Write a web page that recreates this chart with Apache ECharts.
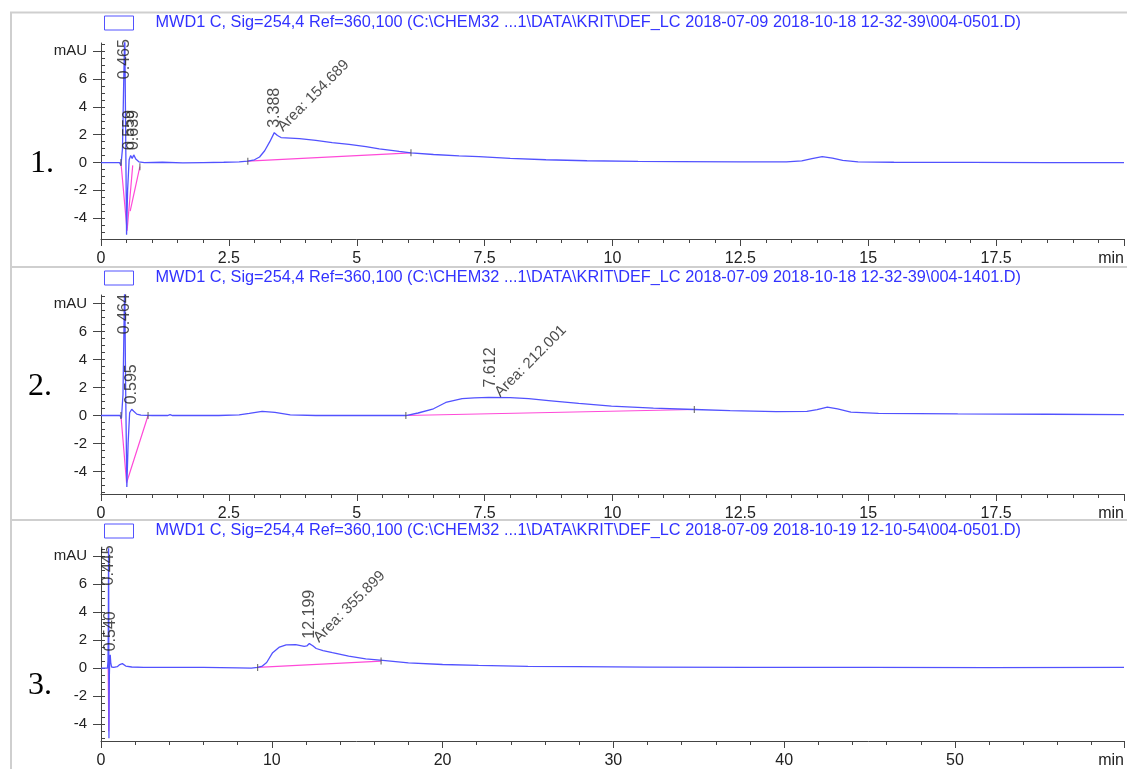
<!DOCTYPE html>
<html><head><meta charset="utf-8">
<script src="https://cdn.jsdelivr.net/npm/echarts@6/dist/echarts.min.js"></script>
<style>html,body{margin:0;padding:0;background:#fff}#c{width:1127px;height:769px}</style>
</head><body><div id="c"></div>
<script>
const FONT = '"Liberation Sans", Arial, sans-serif';

const titles = [
  'MWD1 C, Sig=254,4 Ref=360,100 (C:\\CHEM32 ...1\\DATA\\KRIT\\DEF_LC 2018-07-09 2018-10-18 12-32-39\\004-0501.D)',
  'MWD1 C, Sig=254,4 Ref=360,100 (C:\\CHEM32 ...1\\DATA\\KRIT\\DEF_LC 2018-07-09 2018-10-18 12-32-39\\004-1401.D)',
  'MWD1 C, Sig=254,4 Ref=360,100 (C:\\CHEM32 ...1\\DATA\\KRIT\\DEF_LC 2018-07-09 2018-10-19 12-10-54\\004-0501.D)'
];
const panelNames = ['1.', '2.', '3.'];

// ---- trace 1 (min, mAU)
const t1 = [0,0.2,0.36,0.39,0.42,0.445,0.465,0.48,0.50,0.52,0.55,0.58,0.61,0.64,0.68,0.74,0.85,1.2,1.6,2.0,2.4,2.7,2.87,3.0,3.1,3.2,3.3,3.388,3.45,3.52,3.7,3.88,4.2,4.52,4.85,5.18,5.44,5.83,6.06,6.5,7.0,7.39,8.0,8.7,9.5,10.5,11.3,12.5,13.4,13.7,13.9,14.1,14.3,14.5,14.8,15.5,17,18.5,20];
const s1 = [0,0,0,-0.2,1.0,6.0,9.5,3.0,-5.2,-2.0,0.2,0.5,0.3,0.55,0.25,0.05,0,0.02,-0.02,0,0.02,0.05,0.1,0.2,0.4,0.85,1.5,2.15,1.95,1.8,1.76,1.72,1.6,1.44,1.3,1.15,0.98,0.8,0.7,0.58,0.48,0.43,0.3,0.2,0.13,0.09,0.07,0.05,0.05,0.12,0.28,0.42,0.32,0.15,0.05,0.02,0.01,0,0];
// ---- trace 2
const t2 = [0,0.2,0.37,0.40,0.43,0.45,0.464,0.48,0.505,0.53,0.56,0.60,0.64,0.7,0.78,1.0,1.3,1.35,1.4,1.8,2.3,2.7,2.9,3.15,3.4,3.7,4.2,5.0,5.6,5.96,6.2,6.5,6.74,7.06,7.3,7.58,8.0,8.36,8.8,9.34,9.98,10.8,11.6,12.3,13.2,13.8,14.0,14.2,14.4,14.66,15.2,16.75,18.5,20];
const s2 = [0,0,0,-0.2,1.5,6.5,9.5,2.5,-5.1,-2.0,0.2,0.45,0.3,0.1,0.03,0,0,0.06,0,0,0,0.05,0.15,0.3,0.22,0.05,0,0,0,0,0.18,0.48,0.93,1.2,1.26,1.3,1.28,1.2,1.05,0.86,0.67,0.53,0.43,0.35,0.28,0.3,0.42,0.6,0.48,0.24,0.16,0.12,0.09,0.07];
// ---- trace 3
const t3 = [0,0.2,0.38,0.41,0.43,0.445,0.455,0.465,0.475,0.49,0.51,0.54,0.57,0.62,0.75,0.95,1.1,1.25,1.45,1.8,2.5,4,6,8,8.8,9.17,9.45,9.7,10.05,10.45,10.84,11.4,11.9,12.05,12.2,12.4,12.6,13.0,13.55,14.5,15.5,16.5,18,20,22.1,25,27.9,32,38,45,52,59.9];
const s3 = [0,0,0,0.5,3,9.5,4,-5.0,-2.0,-0.5,0.6,0.95,0.4,0.08,0.05,0.1,0.25,0.32,0.15,0.08,0.05,0.05,0.05,0.02,0.0,0.05,0.15,0.4,1.1,1.5,1.66,1.68,1.55,1.58,1.75,1.6,1.4,1.25,1.1,0.85,0.66,0.55,0.38,0.26,0.2,0.12,0.1,0.07,0.05,0.05,0.04,0.05];

// integration baselines (pink)
const base1 = [[[0.39,0],[0.51,-4.9],[0.62,-0.2]], [[0.57,-3.5],[0.76,-0.3]], [[2.87,0.1],[6.06,0.7]]];
const base2 = [[[0.39,0],[0.50,-4.8],[0.92,0]], [[5.96,0],[11.6,0.43]]];
const base3 = [[[0.42,0],[0.455,-4.5],[0.49,0]], [[9.17,0.05],[16.4,0.5]]];
// integration event ticks
const ev1 = [[0.39,0],[0.76,-0.3],[2.87,0.1],[6.06,0.7]];
const ev2 = [[0.39,0],[0.92,0],[5.96,0],[11.6,0.43]];
const ev3 = [[9.17,0.05],[16.4,0.5]];

// peak retention-time labels
const peakRT1 = [0.465, 0.559, 0.639, 3.388];
const peakLabelY1 = [6.0, 0.9, 0.9, 2.5];
const peakRT2 = [0.464, 0.595, 7.612];
const peakLabelY2 = [5.8, 0.8, 2.0];
const peakRT3 = [0.445, 0.540, 12.199];
const peakLabelY3 = [5.9, 1.2, 2.1];
// area labels
const areaText = ['Area: 154.689', 'Area: 212.001', 'Area: 355.899'];
const areaX = [3.5, 7.75, 12.6];
const areaY = [2.4, 1.5, 2.0];

// axes
const xMax = [20, 20, 59.9];
const xInterval = [2.5, 2.5, 10];
const yMin = [-5.5, -5.6, -5.2];
const yMax = [8.6, 8.6, 8.5];
const yTickValues = [-4, -2, 0, 2, 4, 6, 8];

const grids = [
  {left: 101, top: 43, width: 1026, height: 196},
  {left: 101, top: 295, width: 1026, height: 199},
  {left: 101, top: 549, width: 1026, height: 199}
];

const BLUE = '#5252ff';
const PINK = '#ff4ad8';
const AX = '#444';

const traces = [[t1, s1], [t2, s2], [t3, s3]];
const bases = [base1, base2, base3];
const evs = [ev1, ev2, ev3];
const peaks = [[peakRT1, peakLabelY1], [peakRT2, peakLabelY2], [peakRT3, peakLabelY3]];

const xAxis = [], yAxis = [], series = [], legend = [];
const legendTops = [15, 270, 523];

for (let i = 0; i < 3; i++) {
  const mx = xMax[i];
  xAxis.push({
    type: 'value', gridIndex: i, min: 0, max: mx, interval: xInterval[i],
    axisLine: {show: true, onZero: false, lineStyle: {color: AX, width: 1}},
    axisTick: {show: true, length: 7, lineStyle: {color: AX}},
    minorTick: {show: true, splitNumber: 5, length: 4, lineStyle: {color: AX}},
    splitLine: {show: false},
    axisLabel: {
      show: true, margin: 12, color: '#222', fontSize: 16, fontFamily: FONT,
      showMaxLabel: true, alignMaxLabel: 'right',
      formatter: v => (Math.abs(v - mx) < 1e-9 ? 'min' : (Math.abs(v / xInterval[i] - Math.round(v / xInterval[i])) < 1e-6 ? String(v) : ''))
    }
  });
  const minor = [];
  for (let v = -5.5; v <= yMax[i] + 1e-9; v += 0.5) minor.push(Math.round(v * 10) / 10);
  yAxis.push({
    type: 'value', gridIndex: i, min: yMin[i], max: yMax[i],
    axisLine: {show: true, onZero: false, lineStyle: {color: AX, width: 1}},
    axisTick: {show: true, length: 8, customValues: yTickValues, lineStyle: {color: AX}},
    axisLabel: {show: true, customValues: yTickValues, margin: 14, color: '#222', fontSize: 15, fontFamily: FONT,
      formatter: v => (v === 8 ? 'mAU' : String(v))},
    splitLine: {show: false}
  });
  yAxis.push({
    type: 'value', gridIndex: i, min: yMin[i], max: yMax[i],
    axisLine: {show: false},
    axisTick: {show: true, length: 4, customValues: minor, lineStyle: {color: AX}},
    axisLabel: {show: false},
    splitLine: {show: false}
  });

  const [tt, ss] = traces[i];
  series.push({
    name: titles[i], type: 'line', xAxisIndex: i, yAxisIndex: 2 * i,
    data: tt.map((x, j) => [x, ss[j]]), symbol: 'none', showSymbol: false,
    lineStyle: {color: BLUE, width: 1.3}, itemStyle: {color: BLUE}, z: 3, silent: true, animation: false
  });
  bases[i].forEach(seg => series.push({
    type: 'line', xAxisIndex: i, yAxisIndex: 2 * i, data: seg, symbol: 'none',
    lineStyle: {color: PINK, width: 1.2}, z: 2, silent: true, animation: false
  }));
  series.push({
    type: 'scatter', xAxisIndex: i, yAxisIndex: 2 * i, data: evs[i], symbol: 'rect', symbolSize: [1.2, 7],
    itemStyle: {color: '#555'}, z: 4, silent: true, animation: false
  });
  const [rt, ly] = peaks[i];
  series.push({
    type: 'scatter', xAxisIndex: i, yAxisIndex: 2 * i, data: rt.map((x, j) => [x, ly[j]]), symbolSize: 0,
    label: {show: true, position: [0, 0], rotate: 90, align: 'left', verticalAlign: 'middle',
      color: '#222', fontSize: 16, fontFamily: FONT, formatter: p => p.value[0].toFixed(3)},
    z: 5, silent: true, animation: false
  });
  series.push({
    type: 'scatter', xAxisIndex: i, yAxisIndex: 2 * i, data: [[areaX[i], areaY[i]]], symbolSize: 0,
    label: {show: true, position: [0, 0], rotate: 45, align: 'left', verticalAlign: 'middle',
      color: '#222', fontSize: 15, fontFamily: FONT, formatter: () => areaText[i]},
    z: 5, silent: true, animation: false
  });

  legend.push({
    data: [{name: titles[i], icon: 'rect', itemStyle: {color: '#ffffff', borderColor: BLUE, borderWidth: 1}}],
    left: 104, top: legendTops[i], padding: 0, itemWidth: 29, itemHeight: 14, selectedMode: false,
    textStyle: {color: '#3232ff', fontSize: 16.3, fontFamily: FONT, padding: [0, 0, 0, 17]}
  });
}

const numTops = [165, 388, 687];
const numLeft = [30, 28, 28];
const graphic = [
  {type: 'line', shape: {x1: 10, y1: 12.5, x2: 1127, y2: 12.5}, style: {stroke: '#cfcfcf', lineWidth: 2}, silent: true},
  {type: 'line', shape: {x1: 11, y1: 12, x2: 11, y2: 769}, style: {stroke: '#cfcfcf', lineWidth: 2}, silent: true},
  {type: 'line', shape: {x1: 11, y1: 267, x2: 1127, y2: 267}, style: {stroke: '#cfcfcf', lineWidth: 2}, silent: true},
  {type: 'line', shape: {x1: 11, y1: 520, x2: 1127, y2: 520}, style: {stroke: '#cfcfcf', lineWidth: 2}, silent: true}
];
panelNames.forEach((t, i) => graphic.push({
  type: 'text', left: numLeft[i], top: numTops[i] - 17, silent: true,
  style: {text: t, fill: '#000', font: '32px "Liberation Serif", "Times New Roman", serif'}
}));

const chart = echarts.init(document.getElementById('c'), null, {renderer: 'canvas'});
chart.setOption({
  backgroundColor: '#fff',
  animation: false,
  grid: grids,
  xAxis, yAxis, series, legend, graphic
});
</script></body></html>
